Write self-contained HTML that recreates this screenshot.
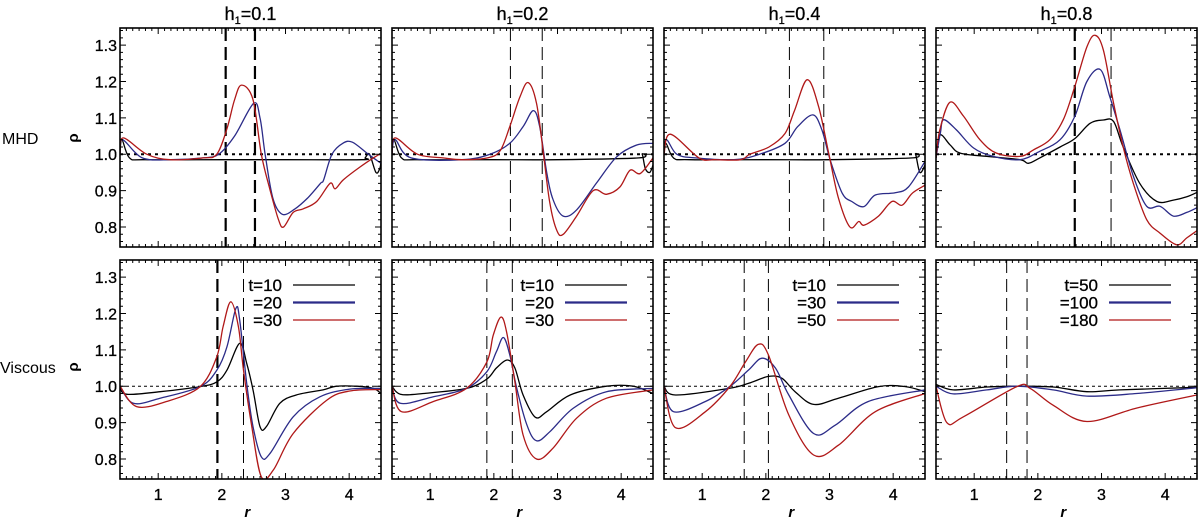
<!DOCTYPE html>
<html><head><meta charset="utf-8">
<style>
html,body{margin:0;padding:0;background:#fff;}
svg{display:block;font-family:"Liberation Sans",sans-serif;}
.bt{stroke:#000;stroke-width:0.3;}
</style></head>
<body>
<svg id="chart" width="1200" height="520" viewBox="0 0 1200 520">
</svg>
<script>
// ---- data ----
const panelTitles = ["0.1","0.2","0.4","0.8"];
const rowLabels = ["MHD","Viscous"];
const xTicks = [1,2,3,4];
const yTicks = [0.8,0.9,1.0,1.1,1.2,1.3];
const legendLabels = [["t=10","=20","=30"],["t=10","=20","=30"],["t=10","=30","=50"],["t=50","=100","=180"]];
const dashMHD = [[2.06,2.52],[2.26,2.76],[2.37,2.91],[2.58,3.15]];
const dashVisc = [[1.93,2.34],[1.89,2.29],[1.66,2.04],[1.51,1.83]];

// MHD panel 1
const m1k_r=[0.4,0.43,0.55,0.8,2.0,3.0,4.2,4.25,4.32,4.42,4.48,4.5];
const m1k_v=[1.0,1.04,0.99,0.985,0.985,0.985,0.985,0.99,1.0,0.95,0.96,0.98];
const m1b_r=[0.4,0.44,0.75,1.2,1.7,1.95,2.2,2.5,2.6,2.68,2.8,2.95,3.15,3.35,3.55,3.6,3.73,3.9,4.05,4.3,4.5];
const m1b_v=[1.0,1.04,0.99,0.985,0.99,1.0,1.05,1.14,1.10,1.0,0.88,0.835,0.85,0.88,0.92,0.93,1.0,1.03,1.033,1.0,0.975];
const m1r_r=[0.4,0.45,0.82,1.19,1.71,1.92,2.08,2.2,2.31,2.49,2.62,2.76,2.89,2.97,3.12,3.28,3.49,3.70,3.78,3.91,4.17,4.38,4.48];
const m1r_v=[1.0,1.045,1.0,0.985,0.99,1.0,1.07,1.15,1.19,1.15,1.0,0.90,0.82,0.80,0.84,0.85,0.87,0.92,0.905,0.93,0.965,0.99,1.0];
// MHD panel 2
const m2k_r=[0.4,0.43,0.55,0.8,2.0,3.0,4.28,4.33,4.38,4.45,4.5];
const m2k_v=[1.0,1.04,0.99,0.985,0.985,0.985,0.99,1.0,0.96,0.95,0.97];
const m2b_r=[0.4,0.45,0.7,1.5,1.94,2.25,2.46,2.62,2.72,2.83,2.93,3.09,3.30,3.61,3.93,4.24,4.5];
const m2b_v=[1.0,1.04,0.99,0.985,1.0,1.03,1.076,1.12,1.076,0.95,0.875,0.83,0.847,0.92,0.993,1.025,1.03];
const m2r_r=[0.4,0.45,0.8,1.2,1.5,1.9,2.1,2.25,2.41,2.54,2.67,2.78,2.88,2.99,3.09,3.30,3.56,3.77,3.98,4.14,4.30,4.5];
const m2r_v=[1.0,1.045,1.0,0.99,0.985,0.99,1.01,1.076,1.158,1.197,1.14,1.0,0.865,0.79,0.78,0.83,0.90,0.89,0.91,0.956,0.947,0.99];
// MHD panel 3
const m3k_r=[0.4,0.43,0.55,0.8,2.0,3.0,4.3,4.35,4.42,4.5];
const m3k_v=[1.0,1.03,0.99,0.985,0.985,0.985,0.99,1.0,0.95,0.97];
const m3b_r=[0.4,0.44,0.6,0.9,1.5,1.9,2.3,2.5,2.74,2.88,3.01,3.20,3.35,3.54,3.72,4.03,4.24,4.5];
const m3b_v=[1.0,1.04,1.0,0.99,0.985,1.0,1.03,1.076,1.108,1.067,0.985,0.893,0.87,0.856,0.888,0.894,0.91,0.98];
const m3r_r=[0.4,0.5,0.95,1.2,1.6,1.75,2.05,2.3,2.45,2.65,2.83,2.99,3.14,3.32,3.46,3.54,3.77,3.98,4.14,4.30,4.5];
const m3r_v=[1.0,1.055,0.99,0.985,0.985,1.0,1.02,1.057,1.12,1.205,1.13,1.0,0.88,0.80,0.815,0.805,0.83,0.87,0.86,0.893,0.915];
// MHD panel 4
const m4k_r=[0.4,0.46,0.62,0.78,1.20,1.72,1.85,2.03,2.35,2.58,2.82,3.03,3.19,3.34,3.60,3.87,4.13,4.34,4.5];
const m4k_v=[0.99,1.053,1.026,1.003,0.994,0.985,0.975,0.99,1.02,1.043,1.085,1.094,1.09,1.02,0.92,0.87,0.874,0.883,0.895];
const m4b_r=[0.4,0.47,0.52,0.72,0.99,1.30,1.72,2.03,2.35,2.58,2.77,2.98,3.13,3.29,3.50,3.71,3.92,4.13,4.34,4.5];
const m4b_v=[0.99,1.06,1.095,1.067,1.017,0.994,0.985,1.008,1.04,1.104,1.2,1.233,1.158,1.067,0.94,0.857,0.857,0.83,0.84,0.853];
const m4r_r=[0.4,0.46,0.62,0.83,1.09,1.35,1.72,1.93,2.19,2.40,2.58,2.77,2.90,3.03,3.19,3.34,3.50,3.71,3.92,4.18,4.34,4.5];
const m4r_v=[0.99,1.067,1.143,1.105,1.04,1.003,0.994,1.012,1.04,1.095,1.186,1.295,1.327,1.286,1.14,1.02,0.92,0.82,0.783,0.751,0.77,0.79];
// Viscous panel 1
const v1k_r=[0.4,0.50,1.03,1.66,1.92,2.08,2.28,2.39,2.49,2.60,2.70,2.91,3.17,3.59,3.80,4.12,4.38,4.5];
const v1k_v=[1.0,0.978,0.985,0.999,1.012,1.044,1.118,1.063,0.99,0.889,0.889,0.953,0.976,0.99,1.0,1.0,0.994,0.98];
const v1b_r=[0.4,0.61,1.03,1.66,1.92,2.08,2.22,2.28,2.39,2.49,2.62,2.76,3.12,3.54,4.01,4.5];
const v1b_v=[1.0,0.953,0.967,0.999,1.044,1.108,1.214,1.182,1.008,0.889,0.806,0.816,0.916,0.971,0.992,0.994];
const v1r_r=[0.4,0.66,1.13,1.66,1.92,2.02,2.14,2.26,2.34,2.47,2.62,2.81,3.12,3.65,4.01,4.5];
const v1r_v=[1.0,0.944,0.958,0.999,1.081,1.164,1.232,1.164,1.044,0.889,0.751,0.77,0.87,0.962,0.987,0.991];
// Viscous panel 2
const v2k_r=[0.4,0.53,0.89,1.57,1.89,2.04,2.21,2.33,2.46,2.65,2.83,3.20,3.77,4.19,4.5];
const v2k_v=[1.0,0.978,0.98,0.994,1.02,1.05,1.072,1.05,0.976,0.915,0.93,0.976,1.0,1.0,0.98];
const v2b_r=[0.4,0.53,1.05,1.57,1.89,2.04,2.15,2.25,2.36,2.52,2.67,2.88,3.25,3.77,4.5];
const v2b_v=[1.0,0.953,0.971,0.994,1.04,1.095,1.134,1.086,0.994,0.893,0.85,0.875,0.94,0.985,0.994];
const v2r_r=[0.4,0.55,1.05,1.57,1.89,1.99,2.11,2.20,2.33,2.46,2.67,2.93,3.30,3.77,4.5];
const v2r_v=[1.0,0.93,0.958,0.994,1.067,1.14,1.19,1.149,1.012,0.866,0.80,0.83,0.912,0.967,0.99];
// Viscous panel 3
const v3k_r=[0.4,0.58,1.42,1.73,2.04,2.25,2.46,2.75,3.14,3.77,4.19,4.5];
const v3k_v=[1.0,0.976,0.994,1.008,1.027,1.022,0.985,0.95,0.967,0.999,0.999,0.985];
const v3b_r=[0.4,0.55,1.05,1.44,1.73,1.94,2.15,2.36,2.75,3.09,3.61,4.5];
const v3b_v=[1.0,0.93,0.958,1.0,1.045,1.077,1.05,0.976,0.87,0.893,0.958,0.99];
const v3r_r=[0.4,0.58,1.05,1.44,1.68,1.88,2.04,2.36,2.75,3.14,3.72,4.5];
const v3r_v=[1.0,0.886,0.93,1.0,1.067,1.115,1.086,0.921,0.811,0.838,0.93,0.98];
// Viscous panel 4
const v4k_r=[0.4,0.67,1.20,1.67,2.24,2.77,3.29,4.5];
const v4k_v=[1.005,0.99,0.998,1.0,0.998,0.985,0.99,0.997];
const v4b_r=[0.4,0.67,1.20,1.67,2.24,2.77,3.55,4.5];
const v4b_v=[1.0,0.979,0.99,1.0,0.99,0.973,0.98,0.996];
const v4r_r=[0.4,0.57,0.83,1.67,1.88,2.24,2.77,3.55,4.5];
const v4r_v=[1.0,0.9,0.916,0.999,0.994,0.948,0.903,0.94,0.976];

const mhdSeries=[[[m1k_r,m1k_v],[m1b_r,m1b_v],[m1r_r,m1r_v]],[[m2k_r,m2k_v],[m2b_r,m2b_v],[m2r_r,m2r_v]],[[m3k_r,m3k_v],[m3b_r,m3b_v],[m3r_r,m3r_v]],[[m4k_r,m4k_v],[m4b_r,m4b_v],[m4r_r,m4r_v]]];
const viscSeries=[[[v1k_r,v1k_v],[v1b_r,v1b_v],[v1r_r,v1r_v]],[[v2k_r,v2k_v],[v2b_r,v2b_v],[v2r_r,v2r_v]],[[v3k_r,v3k_v],[v3b_r,v3b_v],[v3r_r,v3r_v]],[[v4k_r,v4k_v],[v4b_r,v4b_v],[v4r_r,v4r_v]]];

// ---- layout ----
const NS="http://www.w3.org/2000/svg";
const svg=document.getElementById('chart');
const panelLefts=[120,392,664,936], PW=261;
const rowTops=[28,260], PH=219;
const XMIN=0.4,XMAX=4.5,YMIN=0.745,YMAX=1.347;
const colors=["#000000","#2b2b88","#b01818"];
const seriesNames=["black","blue","red"];
function mk(tag,attrs,parent){const e=document.createElementNS(NS,tag);for(const k in attrs)e.setAttribute(k,attrs[k]);(parent||svg).appendChild(e);return e;}
function sx(c,r){return panelLefts[c]+(r-XMIN)/(XMAX-XMIN)*PW;}
function sy(row,v){return rowTops[row]+PH-(v-YMIN)/(YMAX-YMIN)*PH;}
function smoothPath(pts){
  let d="M"+pts[0][0].toFixed(1)+","+pts[0][1].toFixed(1);
  for(let i=0;i<pts.length-1;i++){
    const p0=pts[Math.max(0,i-1)],p1=pts[i],p2=pts[i+1],p3=pts[Math.min(pts.length-1,i+2)];
    const c1=[p1[0]+(p2[0]-p0[0])/6,p1[1]+(p2[1]-p0[1])/6];
    const c2=[p2[0]-(p3[0]-p1[0])/6,p2[1]-(p3[1]-p1[1])/6];
    d+=" C"+c1[0].toFixed(1)+","+c1[1].toFixed(1)+" "+c2[0].toFixed(1)+","+c2[1].toFixed(1)+" "+p2[0].toFixed(1)+","+p2[1].toFixed(1);
  }
  return d;
}
for(let row=0;row<2;row++){
  const lbl=mk('text',{x:row==0?2:0,y:(row==0?138:367)+6,'font-size':16,fill:'#000'});
  
  
  lbl.textContent=rowLabels[row];
  const rho=mk('text',{x:0,y:0,'font-size':15,'font-weight':'bold',fill:'#000',transform:'translate('+78+','+(row==0?138:367)+') rotate(-90)','text-anchor':'middle'});
  
  
  rho.textContent='ρ';
}
for(let c=0;c<4;c++){
  const t=mk('text',{x:panelLefts[c]+PW/2,y:20,'font-size':18,'text-anchor':'middle',fill:'#000','class':'bt'});
  
  
  t.innerHTML='h<tspan font-size="11" dy="4">1</tspan><tspan dy="-4">='+panelTitles[c]+'</tspan>';
  for(let row=0;row<2;row++){
    const L=panelLefts[c],T=rowTops[row];
    const g=mk('g',{});
    
    
    const cp=mk('clipPath',{id:'cp'+c+row},g);mk('rect',{x:L,y:T,width:PW,height:PH},cp);
    const ref=mk('line',{x1:L,x2:L+PW,y1:sy(row,1),y2:sy(row,1),stroke:'#000','stroke-width':row==0?2:1,'stroke-dasharray':row==0?'3,4':'3,3'},g);
    
    
    const dl=row==0?dashMHD[c]:dashVisc[c];
    dl.forEach((r,i)=>{
      const thick=(row==0&&(c==0||(c==3&&i==0)))||(row==1&&c==0&&i==0);
      const l=mk('line',{x1:sx(c,r),x2:sx(c,r),y1:T,y2:T+PH,stroke:'#000','stroke-width':thick?2.2:1,'stroke-dasharray':'13,6'},g);
      
      
    });
    const ser=row==0?mhdSeries[c]:viscSeries[c];
    ser.forEach((s,i)=>{
      const pts=s[0].map((r,k)=>[sx(c,r),sy(row,s[1][k])]);
      const p=mk('path',{d:smoothPath(pts),fill:'none',stroke:colors[i],'stroke-width':1.3,'clip-path':'url(#cp'+c+row+')'},g);
      
      
    });
    const fr=mk('rect',{x:L,y:T,width:PW,height:PH,fill:'none',stroke:'#000','stroke-width':1.6},g);
    
    
    let d='';
    for(let k=5;k<=45;k++){const r=k/10;const x=sx(c,r);const len=(k%10==0)?6:3;
      d+='M'+x+','+(T+PH)+'v'+(-len)+'M'+x+','+T+'v'+len;}
    for(let k=38;k<=67;k++){const v=k/50;const y=sy(row,v);if(y<T||y>T+PH)continue;const len=(k%5==0)?6:3;
      d+='M'+L+','+y+'h'+len+'M'+(L+PW)+','+y+'h'+(-len);}
    const tk=mk('path',{d:d,stroke:'#000','stroke-width':1,fill:'none'},g);
    
    
    if(c==0){
      yTicks.forEach(v=>{const tl=mk('text',{x:L-3,y:sy(row,v)+6,'font-size':16,'text-anchor':'end',fill:'#000','class':'bt'},g);
        
        
        tl.textContent=v.toFixed(1);});
    }
    if(row==1){
      xTicks.forEach(v=>{const tl=mk('text',{x:sx(c,v),y:500,'font-size':16,'text-anchor':'middle',fill:'#000','class':'bt'},g);
        
        
        tl.textContent=v;});
      const xt=mk('text',{x:sx(c,2.4),y:517,'font-size':15,'font-style':'italic','font-weight':'bold','text-anchor':'middle',fill:'#000'},g);
      
      
      xt.textContent='r';
      legendLabels[c].forEach((lab,i)=>{
        const ly=T+25+i*17.5;
        const lt=mk('text',{x:L+162,y:ly+6,'font-size':17,'text-anchor':'end',fill:'#000','class':'bt'},g);
        
        
        lt.textContent=lab;
        const ll=mk('line',{x1:L+173,x2:L+235,y1:ly,y2:ly,stroke:colors[i],'stroke-width':i==1?2.2:1.3},g);
        
        
      });
    }
  }
}
</script>
</body></html>
